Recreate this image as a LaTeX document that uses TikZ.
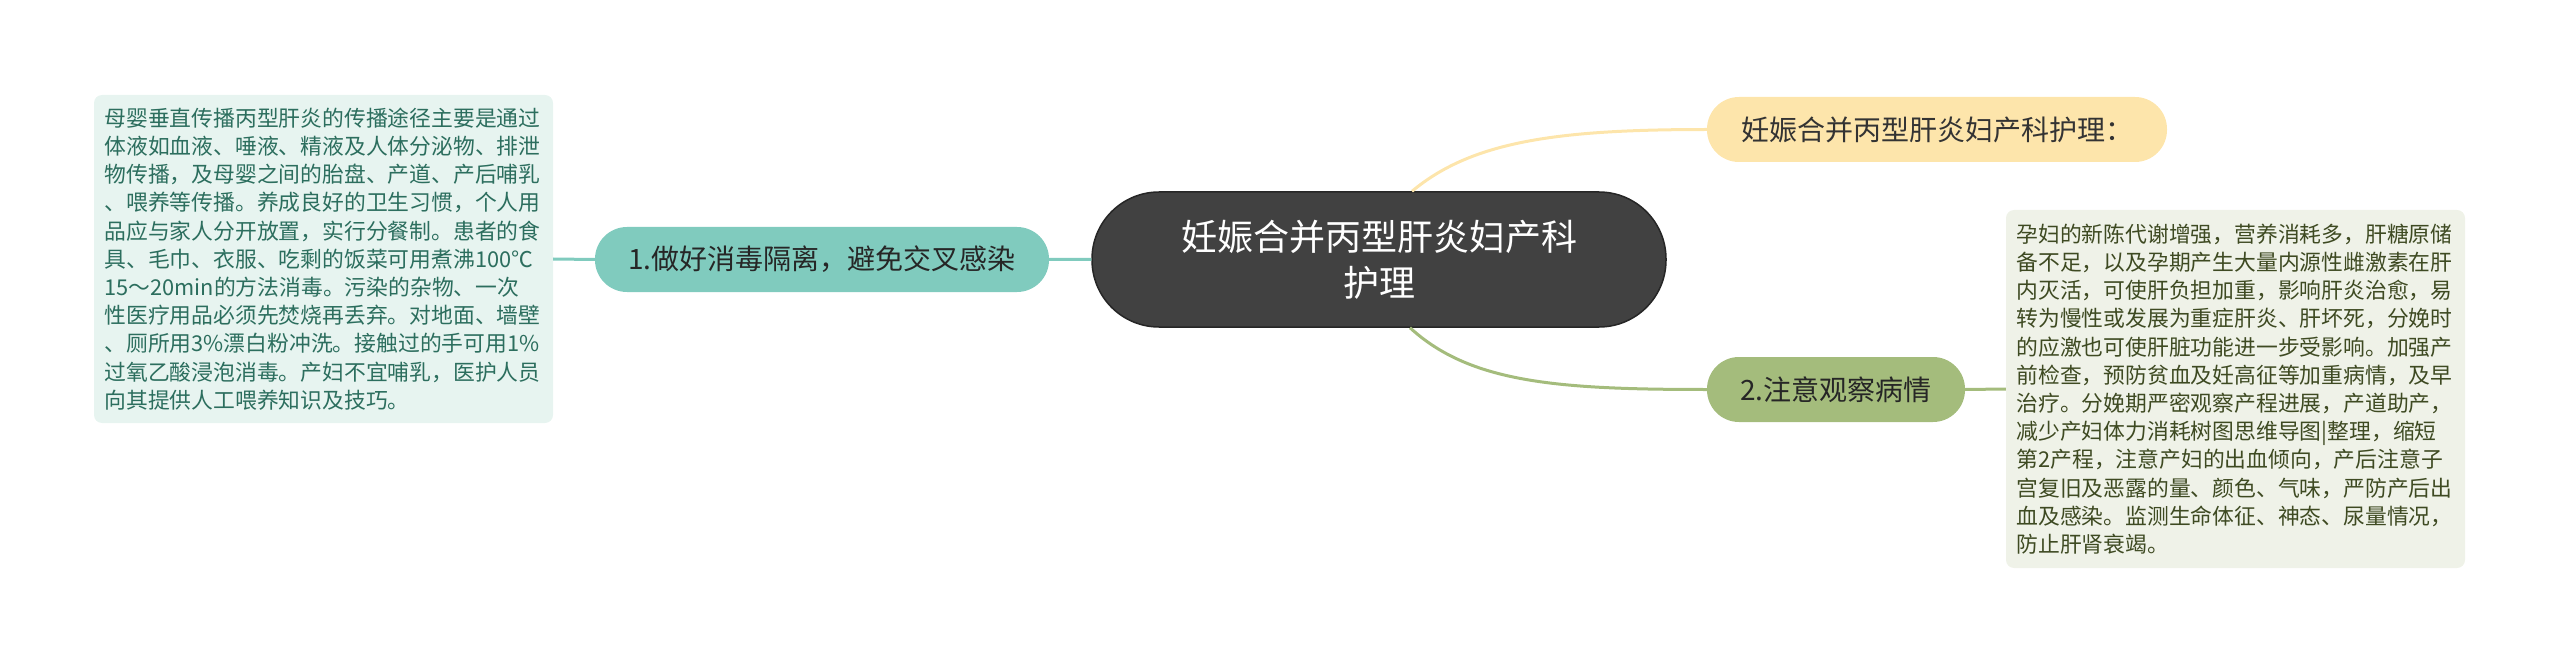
\documentclass[tikz,border=0pt]{standalone}
\usepackage{fontspec}
\setmainfont{Noto Sans CJK SC}
\definecolor{rootfill}{HTML}{414141}
\definecolor{tealfill}{HTML}{80CBBE}
\definecolor{tealnote}{HTML}{E7F4F0}
\definecolor{tealtext}{HTML}{2C6E5E}
\definecolor{sandfill}{HTML}{FDE5AB}
\definecolor{olivefill}{HTML}{A4BC7C}
\definecolor{olivenote}{HTML}{EFF2E8}
\definecolor{olivetext}{HTML}{3E4A22}
\begin{document}
\begin{tikzpicture}[x=1pt,y=-1pt,
	topic/.style={rounded corners=32pt,minimum height=65pt,inner sep=0pt,
		font=\fontsize{28}{34}\selectfont},
	note/.style={rounded corners=8pt,text width=438pt,minimum width=459pt,
		inner xsep=10.5pt,align=left,font=\fontsize{21.8}{28.2}\selectfont},
	link/.style={line width=3pt}]
	\useasboundingbox (0,0) rectangle (2560,663);
	\node[fill=rootfill,draw=black!85,line width=1.5pt,text=white,rounded corners=67pt,
		minimum width=574pt,minimum height=135pt,align=center,
		font=\fontsize{36}{46}\selectfont] (root) at (1379,259.5)
		{妊娠合并丙型肝炎妇产科\\护理};
	\node[topic,fill=tealfill,text=black!85,minimum width=454pt] (isolate) at (822,259.5)
		{1.做好消毒隔离，避免交叉感染};
	\node[topic,fill=sandfill,text=black!80,minimum width=460pt] (title) at (1937,129.5)
		{妊娠合并丙型肝炎妇产科护理：};
	\node[topic,fill=olivefill,text=black!85,minimum width=258pt] (observe) at (1836,389.5)
		{2.注意观察病情};
	\node[note,fill=tealnote,text=tealtext,minimum height=328pt] (isolatenote) at (323.5,259)
		{母婴垂直传播丙型肝炎的传播途径主要是通过\\
		体液如血液、唾液、精液及人体分泌物、排泄\\
		物传播，及母婴之间的胎盘、产道、产后哺乳\\
		、喂养等传播。养成良好的卫生习惯，个人用\\
		品应与家人分开放置，实行分餐制。患者的食\\
		具、毛巾、衣服、吃剩的饭菜可用煮沸100℃\\
		15～20min的方法消毒。污染的杂物、一次\\
		性医疗用品必须先焚烧再丢弃。对地面、墙壁\\
		、厕所用3\%漂白粉冲洗。接触过的手可用1\%\\
		过氧乙酸浸泡消毒。产妇不宜哺乳，医护人员\\
		向其提供人工喂养知识及技巧。};
	\node[note,fill=olivenote,text=olivetext,minimum height=358pt] (observenote) at (2235.5,389)
		{孕妇的新陈代谢增强，营养消耗多，肝糖原储\\
		备不足，以及孕期产生大量内源性雌激素在肝\\
		内灭活，可使肝负担加重，影响肝炎治愈，易\\
		转为慢性或发展为重症肝炎、肝坏死，分娩时\\
		的应激也可使肝脏功能进一步受影响。加强产\\
		前检查，预防贫血及妊高征等加重病情，及早\\
		治疗。分娩期严密观察产程进展，产道助产，\\
		减少产妇体力消耗树图思维导图|整理，缩短\\
		第2产程，注意产妇的出血倾向，产后注意子\\
		宫复旧及恶露的量、颜色、气味，严防产后出\\
		血及感染。监测生命体征、神态、尿量情况，\\
		防止肝肾衰竭。};
	\draw[link,tealfill] (isolatenote.east) -- (isolate.west)
		(isolate.east) -- (root.west);
	\draw[link,sandfill] ([xshift=33pt]root.north) .. controls +(60,-50) and +(-150,0) .. (title.west);
	\draw[link,olivefill] ([xshift=31pt]root.south) .. controls +(60,55) and +(-150,0) .. (observe.west);
	\draw[link,olivefill] (observe.east) -- (observenote.west);
\end{tikzpicture}
\end{document}
